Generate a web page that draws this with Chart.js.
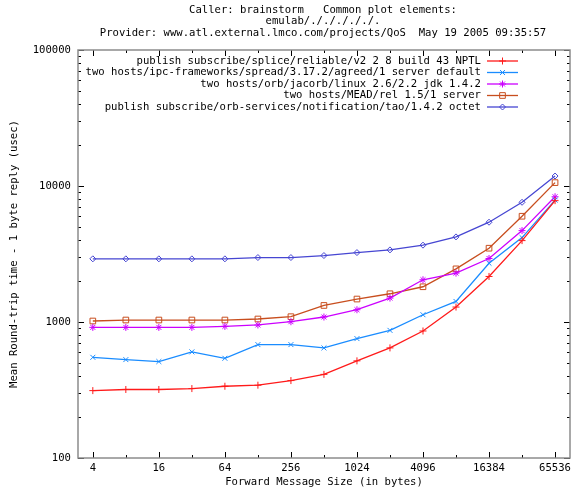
<!DOCTYPE html>
<html>
<head>
<meta charset="utf-8">
<script src="https://cdn.jsdelivr.net/npm/chart.js@4/dist/chart.umd.min.js"></script>
<style>
  html, body { margin: 0; padding: 0; background: #fff; }
</style>
</head>
<body>
<canvas id="chart" width="575" height="498"></canvas>
<script>
// message sizes (bytes) and the labelled ticks on the x axis
var sizes = [4, 8, 16, 32, 64, 128, 256, 512, 1024, 2048, 4096, 8192, 16384, 32768, 65536];
var xTickLabels = [4, 16, 64, 256, 1024, 4096, 16384, 65536];
var yTickLabels = [100, 1000, 10000, 100000];

// mean round-trip time (usec)
var splice = [313, 319, 319, 324, 337, 343, 371, 412, 518, 645, 859, 1288, 2162, 3967, 7803];
var spread = [550, 529, 512, 603, 541, 682, 682, 645, 755, 868, 1131, 1416, 2705, 4172, 7880];
var jacorb = [913, 913, 913, 913, 929, 951, 1005, 1088, 1231, 1500, 2044, 2288, 2931, 4700, 8334];
var mead = [1017, 1034, 1034, 1034, 1034, 1052, 1094, 1323, 1475, 1613, 1816, 2459, 3488, 5993, 10590];
var tao = [2914, 2914, 2914, 2914, 2914, 2978, 2978, 3081, 3240, 3390, 3673, 4224, 5417, 7590, 11840];

var seriesNames = [
  'publish subscribe/splice/reliable/v2 2 8 build 43 NPTL',
  'two hosts/ipc-frameworks/spread/3.17.2/agreed/1 server default',
  'two hosts/orb/jacorb/linux 2.6/2.2 jdk 1.4.2',
  'two hosts/MEAD/rel 1.5/1 server',
  'publish subscribe/orb-services/notification/tao/1.4.2 octet'
];
var headerLines = [
  'Caller: brainstorm   Common plot elements:',
  'emulab/./././././.',
  'Provider: www.atl.external.lmco.com/projects/QoS  May 19 2005 09:35:57'
];

var FONT = '"DejaVu Sans Mono", "Liberation Mono", monospace';
var FSIZE = 10.6;

function pts(values) {
  return values.map(function (v, i) { return { x: sizes[i], y: v }; });
}

function series(label, values, color, style, radius, fill) {
  return {
    label: label,
    data: pts(values),
    borderColor: color,
    backgroundColor: color,
    borderWidth: 1.3,
    pointStyle: style,
    pointRadius: radius,
    pointHoverRadius: radius,
    pointBorderWidth: 1,
    pointBorderColor: color,
    pointBackgroundColor: fill,
    tension: 0
  };
}

// gnuplot-like frame: grey box, inward ticks on all four sides
var framePlugin = {
  id: 'frame',
  afterDatasetsDraw: function (chart) {
    var ctx = chart.ctx, a = chart.chartArea;
    var xs = chart.scales.x, ys = chart.scales.y;
    ctx.save();
    ctx.strokeStyle = '#000';
    ctx.lineWidth = 1;
    ctx.beginPath();
    sizes.forEach(function (v) {
      var px = Math.round(xs.getPixelForValue(v)) + 0.5;
      var len = (Math.log2(v) % 2 === 0) ? 6 : 3;
      ctx.moveTo(px, a.bottom); ctx.lineTo(px, a.bottom - len);
      ctx.moveTo(px, a.top); ctx.lineTo(px, a.top + len);
    });
    [100, 1000, 10000].forEach(function (d) {
      for (var m = 1; m <= 9; m++) {
        var py = Math.round(ys.getPixelForValue(d * m)) + 0.5;
        var len = m === 1 ? 6 : 3;
        ctx.moveTo(a.left, py); ctx.lineTo(a.left + len, py);
        ctx.moveTo(a.right, py); ctx.lineTo(a.right - len, py);
      }
    });
    var top = Math.round(ys.getPixelForValue(100000)) + 0.5;
    ctx.moveTo(a.left, top); ctx.lineTo(a.left + 6, top);
    ctx.moveTo(a.right, top); ctx.lineTo(a.right - 6, top);
    ctx.stroke();

    ctx.strokeStyle = '#8c8c8c';
    ctx.lineWidth = 1.5;
    ctx.strokeRect(a.left, a.top, a.right - a.left, a.bottom - a.top);
    ctx.restore();
  }
};

// legend inside the plot, text right aligned, sample line with marker
var keyPlugin = {
  id: 'key',
  afterDatasetsDraw: function (chart) {
    var ctx = chart.ctx;
    ctx.save();
    ctx.font = FSIZE + 'px ' + FONT;
    ctx.textAlign = 'right';
    ctx.textBaseline = 'middle';
    chart.data.datasets.forEach(function (ds, i) {
      var y = 61 + i * 11.5;
      ctx.fillStyle = '#000';
      ctx.fillText(ds.label, 481, y);
      ctx.strokeStyle = ds.borderColor;
      ctx.lineWidth = ds.borderWidth;
      ctx.beginPath();
      ctx.moveTo(487, y); ctx.lineTo(518, y);
      ctx.stroke();
      ctx.fillStyle = ds.pointBackgroundColor;
      ctx.lineWidth = ds.pointBorderWidth;
      Chart.helpers.drawPoint(ctx, {
        pointStyle: ds.pointStyle,
        radius: ds.pointRadius,
        rotation: 0,
        borderWidth: ds.pointBorderWidth
      }, 502.5, y);
    });
    ctx.restore();
  }
};

var headerPlugin = {
  id: 'header',
  afterDraw: function (chart) {
    var ctx = chart.ctx;
    ctx.save();
    ctx.font = FSIZE + 'px ' + FONT;
    ctx.fillStyle = '#000';
    ctx.textAlign = 'center';
    ctx.textBaseline = 'middle';
    headerLines.forEach(function (t, i) {
      ctx.fillText(t, 323, 10 + i * 11.5);
    });
    ctx.restore();
  }
};

var tickFont = { family: FONT, size: FSIZE };

new Chart(document.getElementById('chart').getContext('2d'), {
  type: 'line',
  data: {
    datasets: [
      series(seriesNames[0], splice, '#ff1a1a', 'cross', 3.5, '#ff1a1a'),
      series(seriesNames[1], spread, '#1a8cff', 'crossRot', 3.5, '#1a8cff'),
      series(seriesNames[2], jacorb, '#cc00ff', 'star', 3.5, '#cc00ff'),
      series(seriesNames[3], mead, '#c84e1e', 'rect', 4, 'rgba(0,0,0,0)'),
      series(seriesNames[4], tao, '#4646d2', 'rectRot', 3, 'rgba(0,0,0,0)')
    ]
  },
  options: {
    responsive: false,
    animation: false,
    layout: { padding: { top: 50, right: 3, left: 0, bottom: 0 } },
    plugins: {
      legend: { display: false },
      tooltip: { enabled: false },
      title: { display: false }
    },
    scales: {
      x: {
        type: 'logarithmic',
        min: 2.93,
        max: 89700,
        grid: { display: false, drawTicks: false },
        border: { display: false },
        afterBuildTicks: function (s) {
          s.ticks = xTickLabels.map(function (v) { return { value: v }; });
        },
        afterFit: function (s) {
          s.height = 40;
          s.paddingLeft = 0;
          s.paddingRight = 0;
        },
        ticks: {
          autoSkip: false,
          maxRotation: 0,
          padding: 4,
          color: '#000',
          font: tickFont,
          callback: function (v) { return String(v); }
        },
        title: {
          display: true,
          text: 'Forward Message Size (in bytes)',
          color: '#000',
          font: tickFont,
          padding: { top: 0, bottom: 9 }
        }
      },
      y: {
        type: 'logarithmic',
        min: 100,
        max: 100000,
        grid: { display: false, drawTicks: false },
        border: { display: false },
        afterBuildTicks: function (s) {
          s.ticks = yTickLabels.map(function (v) { return { value: v }; });
        },
        afterFit: function (s) {
          s.width = 78;
        },
        ticks: {
          autoSkip: false,
          padding: 7,
          color: '#000',
          font: tickFont,
          callback: function (v) { return String(v); }
        },
        title: {
          display: true,
          text: 'Mean Round-trip time - 1 byte reply (usec)',
          color: '#000',
          font: tickFont,
          padding: { top: 8, bottom: 0 }
        }
      }
    }
  },
  plugins: [framePlugin, keyPlugin, headerPlugin]
});
</script>
</body>
</html>
